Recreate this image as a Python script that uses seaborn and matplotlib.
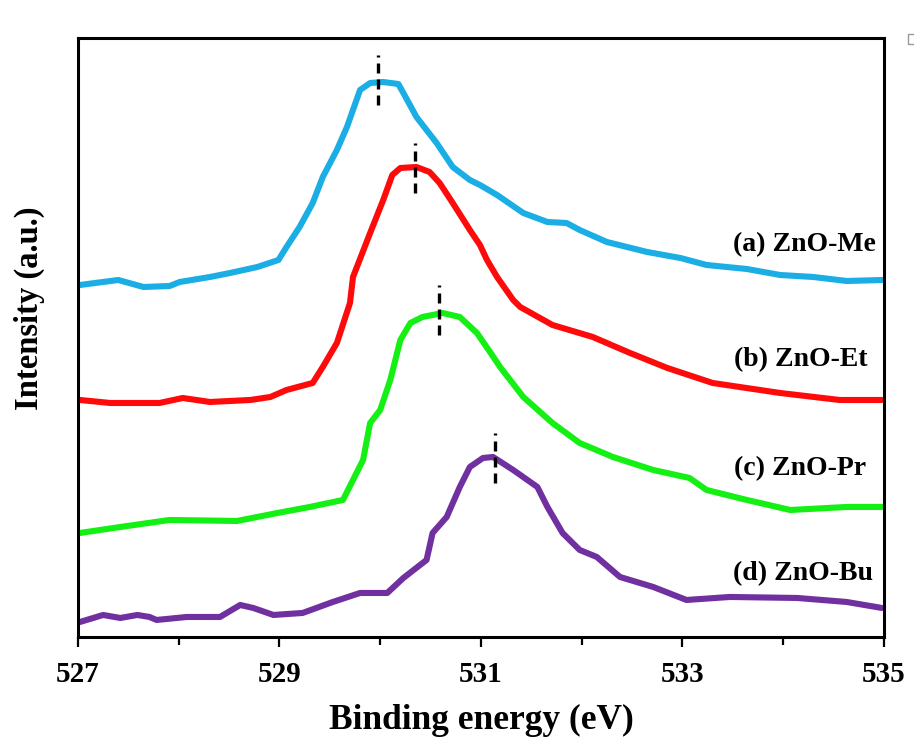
import numpy as np
import pandas as pd
import matplotlib
matplotlib.use("Agg")
import matplotlib.pyplot as plt
import seaborn as sns
from matplotlib.ticker import MultipleLocator
from matplotlib.patches import Rectangle

sns.set_theme(style="white")
plt.rcParams['font.family'] = ['Liberation Serif', 'DejaVu Serif']
plt.rcParams['font.weight'] = 'bold'
plt.rcParams['text.color'] = 'black'
plt.rcParams['axes.labelcolor'] = 'black'
plt.rcParams['xtick.color'] = 'black'
plt.rcParams['ytick.color'] = 'black'

# ---- data (binding energy in eV, intensity in arbitrary stacked units) ----
me_x = [527.02, 527.40, 527.65, 527.91, 528.01, 528.31, 528.51, 528.78, 528.99, 529.07,
        529.20, 529.33, 529.43, 529.57, 529.67, 529.80, 529.90, 530.03, 530.18, 530.23,
        530.36, 530.56, 530.72, 530.89, 530.99, 531.16, 531.42, 531.66, 531.85, 531.98,
        532.25, 532.65, 532.98, 533.24, 533.64, 533.97, 534.30, 534.63, 534.99]
me_y = [352, 357, 350, 351, 355, 360, 364, 370, 377, 390,
        410, 434, 460, 487, 510, 547, 554, 555, 553, 544,
        520, 494, 470, 457, 452, 442, 424, 415, 414, 407,
        395, 385, 379, 372, 368, 362, 360, 356, 357]

et_x = [527.02, 527.32, 527.81, 528.04, 528.31, 528.71, 528.91, 529.07, 529.33, 529.43,
        529.57, 529.70, 529.73, 529.90, 530.03, 530.12, 530.20, 530.36, 530.49, 530.59,
        530.72, 530.89, 530.99, 531.06, 531.16, 531.32, 531.39, 531.71, 532.11, 532.48,
        532.85, 533.30, 533.97, 534.56, 534.98]
et_y = [237, 234, 234, 239, 235, 237, 240, 247, 254, 270,
        294, 334, 360, 404, 437, 462, 469, 470, 465, 454,
        434, 407, 392, 377, 360, 337, 330, 312, 300, 284,
        269, 254, 244, 237, 237]

pr_x = [527.02, 527.42, 527.91, 528.58, 528.98, 529.30, 529.63, 529.73, 529.83, 529.90,
        530.00, 530.10, 530.20, 530.30, 530.42, 530.62, 530.79, 530.96, 531.09, 531.19,
        531.42, 531.71, 531.98, 532.31, 532.71, 533.07, 533.24, 533.64, 534.07, 534.63,
        534.99]
pr_y = [104, 110, 117, 116, 124, 130, 137, 157, 177, 214,
        227, 257, 297, 314, 320, 324, 320, 304, 285, 270,
        240, 214, 194, 180, 167, 159, 147, 137, 127, 130,
        130]

bu_x = [527.02, 527.25, 527.42, 527.59, 527.71, 527.78, 528.08, 528.41, 528.61, 528.74,
        528.94, 529.23, 529.53, 529.80, 530.07, 530.23, 530.46, 530.52, 530.66, 530.79,
        530.89, 531.02, 531.12, 531.32, 531.56, 531.66, 531.81, 531.98, 532.15, 532.38,
        532.71, 533.04, 533.47, 534.14, 534.63, 534.98]
bu_y = [15, 22, 19, 22, 20, 17, 20, 20, 32, 29,
        22, 24, 35, 44, 44, 59, 77, 104, 120, 150,
        170, 179, 180, 167, 150, 130, 104, 87, 80, 60,
        50, 37, 40, 39, 35, 29]

labels = ["(a) ZnO-Me", "(b) ZnO-Et", "(c) ZnO-Pr", "(d) ZnO-Bu"]
colors = ["#1BAEE5", "#FF0A0A", "#14F014", "#7030A0"]
label_pos_x = [534.92, 534.84, 534.82, 534.89]
label_pos_y = [392, 277, 168, 63]

peak_x = [529.98, 530.35, 530.58, 531.14]
peak_ymin = [532, 444, 302, 154]
peak_ymax = [582, 494, 352, 204]

x_ticks = [527, 529, 531, 533, 535]

# ---- build long table ----
series = [(me_x, me_y), (et_x, et_y), (pr_x, pr_y), (bu_x, bu_y)]
frames = []
for name, (xs, ys) in zip(labels, series):
    frames.append(pd.DataFrame({"E": xs, "I": ys, "sample": name}))
df = pd.concat(frames, ignore_index=True)

fig = plt.figure(figsize=(9.14, 7.38), dpi=100)
ax = fig.add_axes([0.0853, 0.1369, 0.8818, 0.8116])

sns.lineplot(data=df, x="E", y="I", hue="sample", palette=dict(zip(labels, colors)),
             sort=False, estimator=None, linewidth=4.4, legend=False, ax=ax)

for px, y0, y1 in zip(peak_x, peak_ymin, peak_ymax):
    ax.plot([px, px], [y0, y1], color="black", linewidth=2.4, linestyle=(0, (3.0, 1.8)))

for lab, lx, ly in zip(labels, label_pos_x, label_pos_y):
    ax.text(lx, ly, lab, ha="right", va="center", fontsize=20, fontweight="bold", color="black")

ax.set_xlim(527, 535)
ax.set_ylim(0, 599)
ax.set_xticks(x_ticks)
ax.set_xticklabels([str(t) for t in x_ticks], fontsize=21, fontweight="bold")
ax.xaxis.set_minor_locator(MultipleLocator(1))
ax.set_yticks([])
ax.tick_params(axis="x", which="major", direction="out", length=7, width=1.6, bottom=True, pad=10)
ax.tick_params(axis="x", which="minor", direction="out", length=6, width=1.6, bottom=True)
for s in ax.spines.values():
    s.set_color("black")
    s.set_linewidth(2.2)

ax.set_xlabel("Binding energy (eV)", fontsize=25.5, fontweight="bold", labelpad=12)
ax.set_ylabel("Intensity (a.u.)", fontsize=23.5, fontweight="bold")
ax.yaxis.set_label_coords(-0.041, 0.549)

# small window-corner artifact at the top right of the original image
fig.patches.append(Rectangle((908 / 914, 1 - 44 / 738), 10 / 914, 10 / 738,
                             transform=fig.transFigure, fill=False,
                             edgecolor="#999999", linewidth=1.0))

fig.savefig("out.png", dpi=100)
